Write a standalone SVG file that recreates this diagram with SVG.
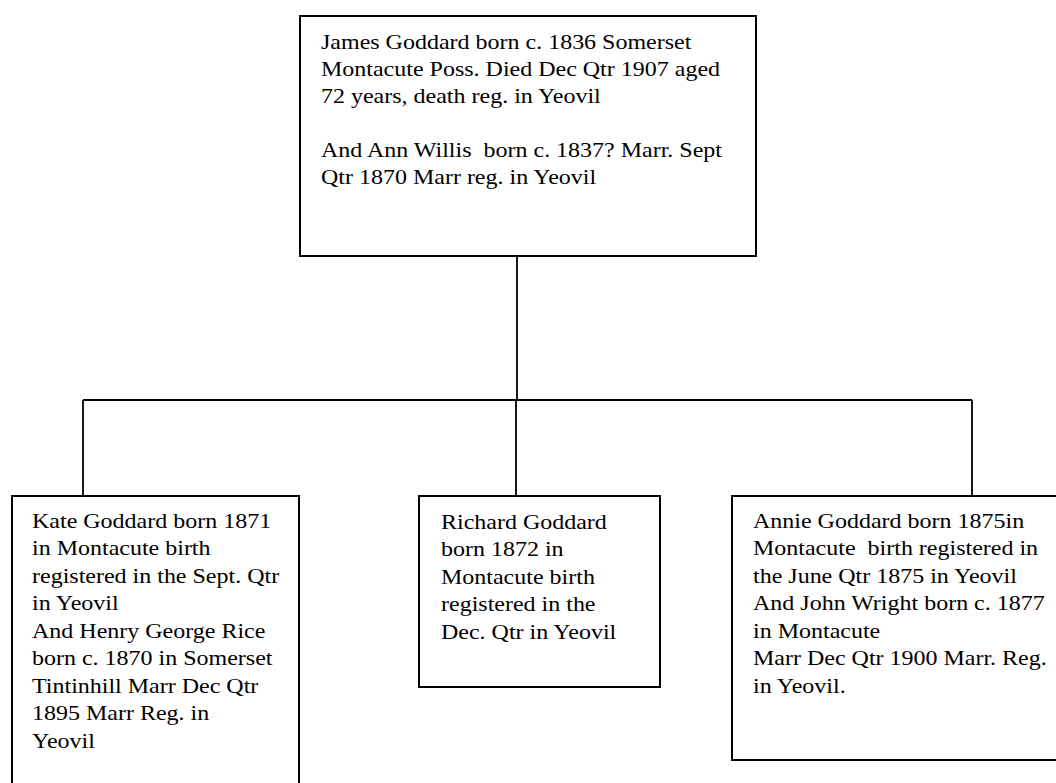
<svg xmlns="http://www.w3.org/2000/svg" width="1056" height="783" viewBox="0 0 1056 783">
<style>
.box{fill:#fff;stroke:#000;stroke-width:2}
.conn{fill:none;stroke:#000;stroke-width:1.8}
text{font-family:"Liberation Serif","Times New Roman",serif;font-size:20px;fill:#000}
</style>
<rect width="1056" height="783" fill="#fff"/>
<g id="connectors">
<line class="conn" x1="517" y1="256" x2="517" y2="400"/>
<line class="conn" x1="83" y1="400" x2="972" y2="400"/>
<line class="conn" x1="83" y1="400" x2="83" y2="496"/>
<line class="conn" x1="516" y1="400" x2="516" y2="496"/>
<line class="conn" x1="972" y1="400" x2="972" y2="496"/>
</g>
<g id="node-james">
<rect class="box" x="300" y="16" width="456" height="240"/>
<g transform="translate(321 0) scale(1.2 1)">
<text y="49">James Goddard born c. 1836 Somerset</text>
<text y="76">Montacute Poss. Died Dec Qtr 1907 aged</text>
<text y="103">72 years, death reg. in Yeovil</text>
<text y="157" xml:space="preserve">And Ann Willis  born c. 1837? Marr. Sept</text>
<text y="184">Qtr 1870 Marr reg. in Yeovil</text>
</g>
</g>
<g id="node-kate">
<rect class="box" x="12" y="496" width="287" height="300"/>
<g transform="translate(32 0) scale(1.2 1)">
<text y="528">Kate Goddard born 1871</text>
<text y="555.5">in Montacute birth</text>
<text y="583">registered in the Sept. Qtr</text>
<text y="610.5">in Yeovil</text>
<text y="638">And Henry George Rice</text>
<text y="665.5">born c. 1870 in Somerset</text>
<text y="693">Tintinhill Marr Dec Qtr</text>
<text y="720.5">1895 Marr Reg. in</text>
<text y="748">Yeovil</text>
</g>
</g>
<g id="node-richard">
<rect class="box" x="419" y="496" width="241" height="191"/>
<g transform="translate(441 0) scale(1.2 1)">
<text y="529">Richard Goddard</text>
<text y="556.5">born 1872 in</text>
<text y="584">Montacute birth</text>
<text y="611.5">registered in the</text>
<text y="639">Dec. Qtr in Yeovil</text>
</g>
</g>
<g id="node-annie">
<rect class="box" x="732" y="496" width="340" height="264"/>
<g transform="translate(753 0) scale(1.2 1)">
<text y="528">Annie Goddard born 1875in</text>
<text y="555.5" xml:space="preserve">Montacute  birth registered in</text>
<text y="583">the June Qtr 1875 in Yeovil</text>
<text y="610.5">And John Wright born c. 1877</text>
<text y="638">in Montacute</text>
<text y="665.5">Marr Dec Qtr 1900 Marr. Reg.</text>
<text y="693">in Yeovil.</text>
</g>
</g>
</svg>
